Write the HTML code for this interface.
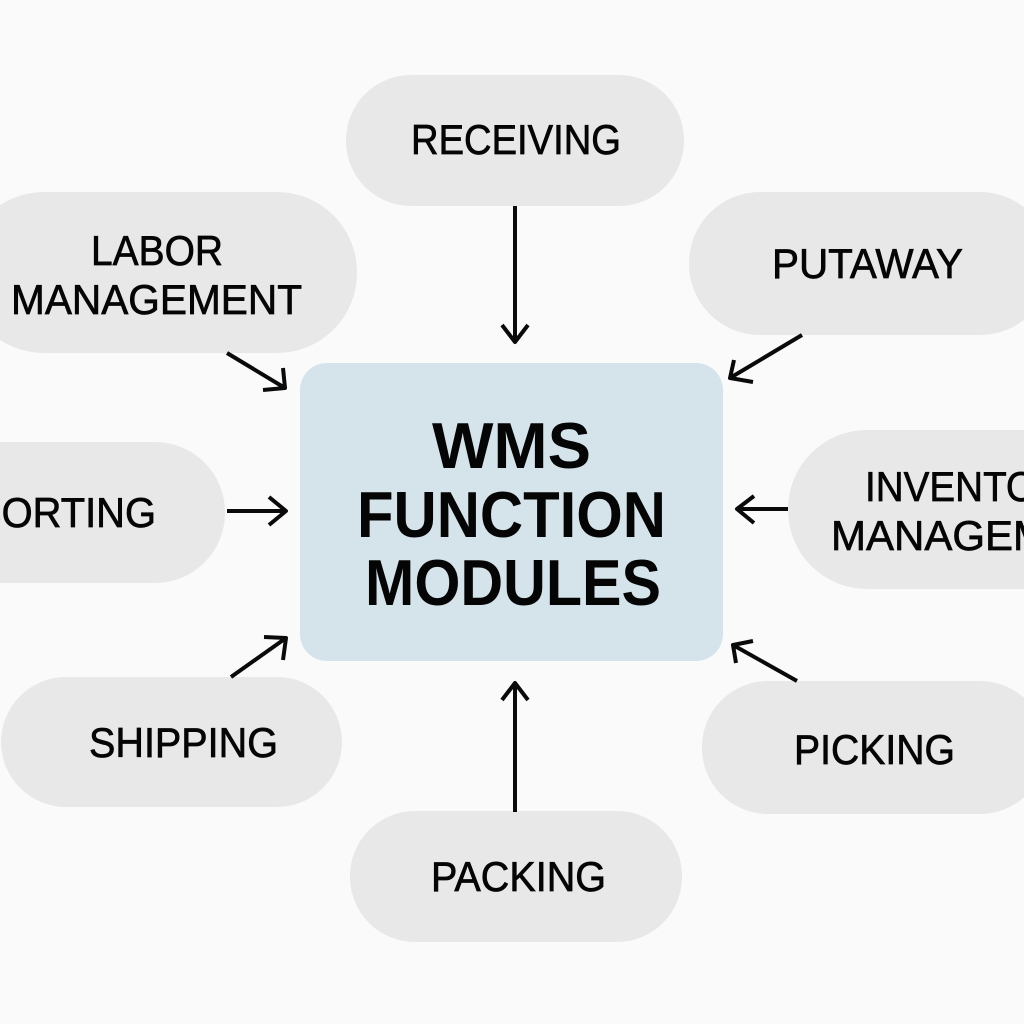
<!DOCTYPE html>
<html>
<head>
<meta charset="utf-8">
<style>
html,body{margin:0;padding:0;background:#fafafa;}
svg{display:block;}
text{font-family:"Liberation Sans",sans-serif;fill:#050505;text-anchor:start;}
.l{font-size:42px;stroke:#050505;stroke-width:.7px;}
.t{font-size:65px;font-weight:bold;}
.a{fill:none;stroke:#0a0a0a;stroke-width:4;stroke-linejoin:round;}
</style>
</head>
<body>
<svg width="1024" height="1024" viewBox="0 0 1024 1024" xmlns="http://www.w3.org/2000/svg">
<rect width="1024" height="1024" fill="#fafafa"/>
<g fill="#e8e8e8">
<rect x="346" y="75" width="338" height="131" rx="65"/>
<rect x="-36" y="192" width="393" height="161" rx="80"/>
<rect x="689" y="192" width="362" height="143" rx="71"/>
<rect x="-120" y="442" width="345" height="141" rx="70"/>
<rect x="788" y="430" width="340" height="159" rx="79"/>
<rect x="1" y="677" width="341" height="130" rx="65"/>
<rect x="702" y="681" width="344" height="133" rx="66"/>
<rect x="350" y="811" width="332" height="131" rx="65"/>
</g>
<rect x="300" y="363" width="423" height="298" rx="27" fill="#d5e4ea"/>
<text class="t" x="432" y="468" textLength="159" lengthAdjust="spacingAndGlyphs">WMS</text>
<text class="t" x="357" y="537" textLength="309" lengthAdjust="spacingAndGlyphs">FUNCTION</text>
<text class="t" x="365" y="605" textLength="296" lengthAdjust="spacingAndGlyphs">MODULES</text>
<text class="l" x="411" y="154" textLength="210" lengthAdjust="spacingAndGlyphs">RECEIVING</text>
<text class="l" x="91" y="265" textLength="132" lengthAdjust="spacingAndGlyphs">LABOR</text>
<text class="l" x="11" y="314" textLength="291" lengthAdjust="spacingAndGlyphs">MANAGEMENT</text>
<text class="l" x="772" y="278" textLength="191" lengthAdjust="spacingAndGlyphs">PUTAWAY</text>
<text class="l" x="-25" y="527" textLength="181" lengthAdjust="spacingAndGlyphs">SORTING</text>
<text class="l" x="865" y="501" textLength="224" lengthAdjust="spacingAndGlyphs">INVENTORY</text>
<text class="l" x="831" y="550" textLength="301" lengthAdjust="spacingAndGlyphs">MANAGEMENT</text>
<text class="l" x="89" y="757" textLength="189" lengthAdjust="spacingAndGlyphs">SHIPPING</text>
<text class="l" x="794" y="764" textLength="161" lengthAdjust="spacingAndGlyphs">PICKING</text>
<text class="l" x="431" y="891" textLength="175" lengthAdjust="spacingAndGlyphs">PACKING</text>
<g class="a">
<path d="M515 206V342M502 325L515 342L528 325"/>
<path d="M227 353L285 388M283 368L285 388L263 390"/>
<path d="M802 335L730 378M734 360L730 378L753 382"/>
<path d="M227 511H285M269 497L286 511L269 525"/>
<path d="M788 509H737M754 496L737 509L754 523"/>
<path d="M231 677L286 638M264 637L286 638L283 660"/>
<path d="M797 681L733 645M753 641L733 645L736 663"/>
<path d="M515 812V683M502 700L515 683L528 700"/>
</g>
</svg>
</body>
</html>
